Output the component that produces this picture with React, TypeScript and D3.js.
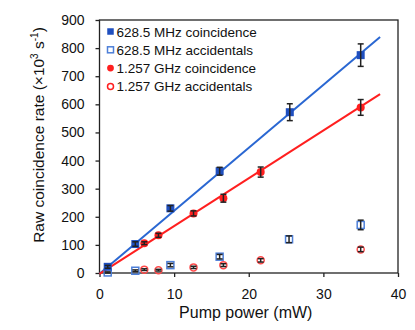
import React, { useEffect, useRef } from 'react';
import * as d3 from 'd3';

// pump power (mW) and rates (x10^3 /s)
const mhzPower = [1.1, 4.8, 9.5, 16.1, 25.5, 35.0];
const mhzCoinc = [22, 103, 230, 362, 572, 775];
const mhzCoincErr = [5, 8, 10, 14, 30, 40];
const mhzAccPower = [1.1, 4.8, 9.5, 16.1, 25.4, 35.0];
const mhzAcc = [2, 8, 28, 58, 120, 171];
const mhzAccErr = [2, 3, 6, 8, 12, 17];

const ghzPower = [6.0, 7.9, 12.6, 16.6, 21.6, 35.0];
const ghzCoinc = [106, 134, 212, 266, 359, 589];
const ghzCoincErr = [5, 7, 9, 14, 18, 28];
const ghzAcc = [12, 10, 20, 28, 45, 84];
const ghzAccErr = [3, 3, 4, 5, 6, 8];

// linear fits [slope, intercept] and their x extent
const mhzFit = [22.4, -3];
const ghzFit = [17.0, -3];
const fitRange = [0, 37.6];

const xTicks = [0, 10, 20, 30, 40];
const yTicks = [0, 100, 200, 300, 400, 500, 600, 700, 800, 900];

const legendLabels = [
    '628.5 MHz coincidence',
    '628.5 MHz accidentals',
    '1.257 GHz coincidence',
    '1.257 GHz accidentals',
];

const BLUE = '#1f4fbf';
const BLUE_LINE = '#2a67d2';
const BLUE_OPEN = '#4d7fd8';
const RED = '#ff1f1f';
const RED_OPEN = '#ff4a4a';

export default function App() {
    const ref = useRef<SVGSVGElement>(null);

    useEffect(() => {
        const svg = d3.select(ref.current);
        svg.selectAll('*').remove();

        const margin = { left: 99.5, right: 17, top: 20, bottom: 57 };
        const W = 415, H = 330;
        const font = '"Liberation Sans", Arial, sans-serif';

        const x = d3.scaleLinear().domain([0, 40]).range([margin.left, W - margin.right]);
        const y = d3.scaleLinear().domain([0, 900]).range([H - margin.bottom, margin.top]);

        // frame
        svg.append('rect')
            .attr('x', x(0)).attr('y', y(900))
            .attr('width', x(40) - x(0)).attr('height', y(0) - y(900))
            .attr('fill', 'none').attr('stroke', '#222').attr('stroke-width', 1.3);

        const xAxis = svg.append('g')
            .attr('transform', `translate(0,${y(0)})`)
            .call(d3.axisBottom(x).tickValues(xTicks).tickSize(4).tickPadding(12));
        const yAxis = svg.append('g')
            .attr('transform', `translate(${x(0)},0)`)
            .call(d3.axisLeft(y).tickValues(yTicks).tickSize(4).tickPadding(11));
        [xAxis, yAxis].forEach(a => {
            a.select('.domain').remove();
            a.selectAll('line').attr('stroke', '#222').attr('stroke-width', 1.3);
            a.selectAll('text').attr('font-family', font).attr('font-size', 14).attr('fill', '#111');
        });

        svg.append('text')
            .attr('x', (x(0) + x(40)) / 2 - 3).attr('y', 318)
            .attr('text-anchor', 'middle')
            .attr('font-family', font).attr('font-size', 16).attr('fill', '#111')
            .text('Pump power (mW)');

        const yt = svg.append('text')
            .attr('transform', 'translate(44,135) rotate(-90)')
            .attr('text-anchor', 'middle')
            .attr('font-family', font).attr('font-size', 15.5).attr('fill', '#111');
        yt.append('tspan').text('Raw coincidence rate (×10');
        yt.append('tspan').attr('font-size', 10).attr('dy', -6).text('3');
        yt.append('tspan').attr('dy', 6).text(' s');
        yt.append('tspan').attr('font-size', 10).attr('dy', -6).text('-1');
        yt.append('tspan').attr('dy', 6).text(')');

        // fit lines
        const line = d3.line<number>().x(d => x(d[0])).y(d => y(d[1]));
        [[mhzFit, BLUE_LINE], [ghzFit, RED]].forEach(([fit, c]: any) => {
            svg.append('path')
                .datum(fitRange.map(p => [p, fit[0] * p + fit[1]]) as any)
                .attr('d', line as any)
                .attr('fill', 'none').attr('stroke', c).attr('stroke-width', 2);
        });

        const errBars = (px: number[], py: number[], pe: number[]) => {
            const g = svg.append('g').attr('stroke', '#222').attr('stroke-width', 1.5);
            px.forEach((p, i) => {
                g.append('line').attr('x1', x(p)).attr('x2', x(p))
                    .attr('y1', y(py[i] - pe[i])).attr('y2', y(py[i] + pe[i]));
                [-1, 1].forEach(s => g.append('line')
                    .attr('x1', x(p) - 3).attr('x2', x(p) + 3)
                    .attr('y1', y(py[i] + s * pe[i])).attr('y2', y(py[i] + s * pe[i])));
            });
        };

        const square = (g: any, cx: number, cy: number, s: number, filled: boolean, c: string) =>
            g.append('rect').attr('x', cx - s / 2).attr('y', cy - s / 2).attr('width', s).attr('height', s)
                .attr('fill', filled ? c : 'none').attr('stroke', c).attr('stroke-width', filled ? 0 : 1.5);
        const circle = (g: any, cx: number, cy: number, r: number, filled: boolean, c: string) =>
            g.append('circle').attr('cx', cx).attr('cy', cy).attr('r', r)
                .attr('fill', filled ? c : 'none').attr('stroke', c).attr('stroke-width', filled ? 0 : 1.5);

        // accidentals
        mhzAccPower.forEach((p, i) => square(svg, x(p), y(mhzAcc[i]), 7, false, BLUE_OPEN));
        errBars(mhzAccPower, mhzAcc, mhzAccErr);
        ghzPower.forEach((p, i) => circle(svg, x(p), y(ghzAcc[i]), 3.5, false, RED_OPEN));
        errBars(ghzPower, ghzAcc, ghzAccErr);

        // coincidences
        mhzPower.forEach((p, i) => square(svg, x(p), y(mhzCoinc[i]), 8, true, BLUE));
        errBars(mhzPower, mhzCoinc, mhzCoincErr);
        ghzPower.forEach((p, i) => circle(svg, x(p), y(ghzCoinc[i]), 4, true, RED));
        errBars(ghzPower, ghzCoinc, ghzCoincErr);

        // legend
        const lg = svg.append('g');
        legendLabels.forEach((t, i) => {
            const cy = 31.5 + i * 18.3;
            if (i === 0) square(lg, 110.5, cy, 6.5, true, BLUE);
            if (i === 1) square(lg, 110.5, cy, 6, false, BLUE_OPEN);
            if (i === 2) circle(lg, 110.5, cy, 3.4, true, RED);
            if (i === 3) circle(lg, 110.5, cy, 3, false, RED);
            lg.append('text')
                .attr('x', 116.5).attr('y', cy + 5)
                .attr('font-family', font).attr('font-size', 13.5).attr('fill', '#111')
                .text(t);
        });
    }, []);

    return (
        <svg ref={ref} width={415} height={330}
            style={{ position: 'absolute', left: 0, top: 0, background: '#fff' }} />
    );
}
